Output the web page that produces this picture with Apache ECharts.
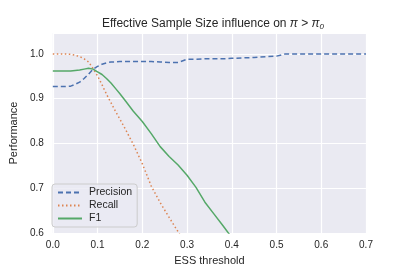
<!DOCTYPE html>
<html><head><meta charset="utf-8">
<script src="https://cdn.jsdelivr.net/npm/echarts@6/dist/echarts.min.js"></script>
<style>html,body{margin:0;padding:0;background:#fff}#c{width:407px;height:271px}</style>
</head><body><div id="c"></div>
<script>
const xs = [0,0.02,0.04,0.05,0.06,0.07,0.08,0.09,0.10,0.11,0.12,0.13,0.14,0.15,0.16,0.18,0.20,0.22,0.24,0.26,0.28,0.30,0.32,0.34,0.36,0.38,0.40,0.45,0.50,0.52,0.55,0.60,0.65,0.70];
const precision = [0.927,0.927,0.928,0.932,0.937,0.945,0.955,0.966,0.972,0.977,0.980,0.982,0.982,0.983,0.983,0.983,0.983,0.983,0.982,0.981,0.981,0.988,0.988,0.989,0.989,0.989,0.990,0.992,0.995,1.0,1.0,1.0,1.0,1.0];
const recall = [1.0,1.0,0.999,0.997,0.994,0.989,0.982,0.967,0.951,0.931,0.910,0.891,0.872,0.854,0.836,0.798,0.755,0.705,0.668,0.635,0.603,0.570,null,null,null,null,null,null,null,null,null,null,null,null];
const f1 = [0.962,0.962,0.962,0.963,0.964,0.966,0.968,0.966,0.960,0.954,0.945,0.935,0.923,0.911,0.898,0.872,0.849,0.822,0.793,0.771,0.752,0.729,0.702,0.669,0.643,0.617,0.590,null,null,null,null,null,null,null];
const xTicks = [0,0.1,0.2,0.3,0.4,0.5,0.6,0.7];
const yTicks = [0.6,0.7,0.8,0.9,1.0];

const pairs = arr => xs.map((x,i)=>[x,arr[i]]).filter(p=>p[1]!==null);
const chart = echarts.init(document.getElementById('c'));
const font = 'Liberation Sans, Arial, sans-serif';
chart.setOption({
  animation:false,
  backgroundColor:'#fff',
  title:{
    text:'Effective Sample Size influence on {i|π} > {i|π}{s|0}',
    left:208, top:12, textAlign:'center',
    textStyle:{fontFamily:font,fontSize:12,fontWeight:'normal',color:'#262626',
      rich:{i:{fontStyle:'italic',fontSize:12,fontFamily:font,color:'#262626'},
            s:{fontStyle:'italic',fontSize:8,fontFamily:font,color:'#262626',padding:[6,0,0,0]}}}
  },
  grid:{left:51,right:41,top:33,bottom:34,show:true,backgroundColor:'#eaeaf2',borderWidth:0},
  legend:{
    orient:'vertical',left:52,top:184,width:84,
    backgroundColor:'rgba(234,234,242,0.8)',borderColor:'#cccccc',borderWidth:1,borderRadius:3,
    padding:[3,5,3,5],itemGap:2,itemWidth:24,itemHeight:12,
    itemStyle:{opacity:0},
    textStyle:{fontFamily:font,fontSize:10.5,color:'#262626',padding:[0,0,0,2]},
    data:['Precision','Recall','F1']
  },
  xAxis:{
    type:'value',min:0,max:0.7,interval:0.1,
    name:'ESS threshold',nameLocation:'middle',nameGap:20,
    nameTextStyle:{fontFamily:font,fontSize:11,color:'#262626'},
    axisLine:{show:false},axisTick:{show:false},
    axisLabel:{fontFamily:font,fontSize:10,color:'#262626',margin:7,formatter:v=>v.toFixed(1)},
    splitLine:{show:true,lineStyle:{color:'#ffffff',width:1.2}}
  },
  yAxis:{
    type:'value',min:0.6,max:1.0466,
    name:'Performance',nameLocation:'middle',nameGap:32,nameRotate:90,
    nameTextStyle:{fontFamily:font,fontSize:11,color:'#262626'},
    axisLine:{show:false},axisTick:{show:false},
    axisLabel:{fontFamily:font,fontSize:10,color:'#262626',margin:9,
      customValues:yTicks,formatter:v=>v.toFixed(1)},
    splitLine:{show:true,lineStyle:{color:'#ffffff',width:1.2}},
    interval:0.1
  },
  series:[
    {name:'Precision',type:'line',data:pairs(precision),symbol:'none',clip:true,
      color:'#4c72b0',lineStyle:{color:'#4c72b0',width:1.5,type:[5,3]}},
    {name:'Recall',type:'line',data:pairs(recall),symbol:'none',clip:true,
      color:'#dd8452',lineStyle:{color:'#dd8452',width:1.5,type:[1.5,2.5]}},
    {name:'F1',type:'line',data:pairs(f1),symbol:'none',clip:true,
      color:'#55a868',lineStyle:{color:'#55a868',width:1.5}}
  ]
});
</script></body></html>
